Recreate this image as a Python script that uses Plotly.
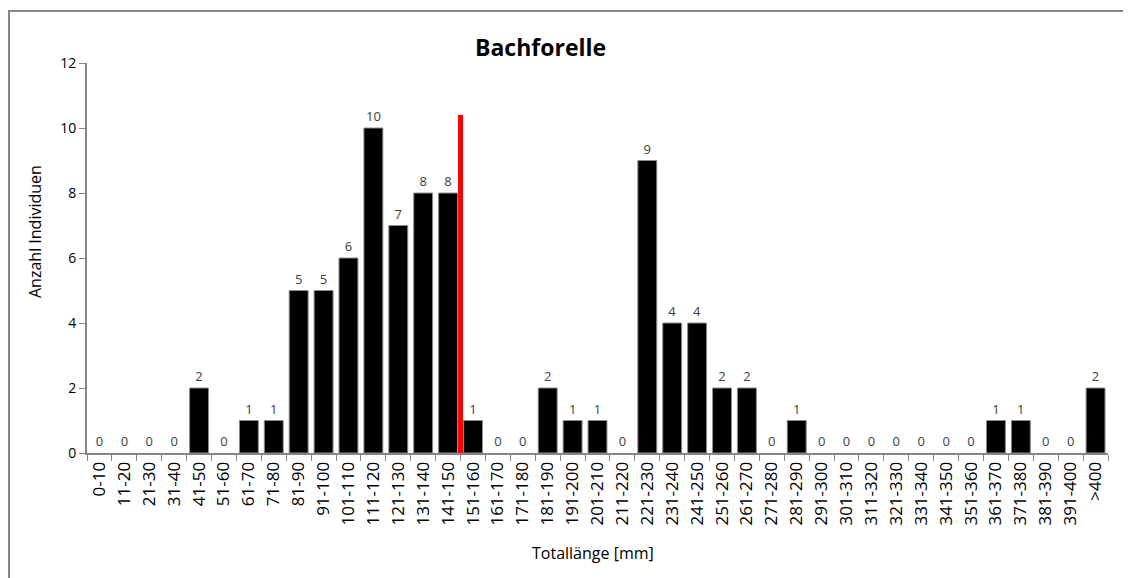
import plotly.graph_objects as go

categories = ["0-10", "11-20", "21-30", "31-40", "41-50", "51-60", "61-70", "71-80",
              "81-90", "91-100", "101-110", "111-120", "121-130", "131-140", "141-150",
              "151-160", "161-170", "171-180", "181-190", "191-200", "201-210", "211-220",
              "221-230", "231-240", "241-250", "251-260", "261-270", "271-280", "281-290",
              "291-300", "301-310", "311-320", "321-330", "331-340", "341-350", "351-360",
              "361-370", "371-380", "381-390", "391-400", ">400"]
counts = [0, 0, 0, 0, 2, 0, 1, 1, 5, 5, 6, 10, 7, 8, 8, 1, 0, 0, 2, 1, 1, 0,
          9, 4, 4, 2, 2, 0, 1, 0, 0, 0, 0, 0, 0, 0, 1, 1, 0, 0, 2]
marker_after_category = "141-150"
marker_height = 10.4

font_family = "Open Sans, Noto Sans, DejaVu Sans, sans-serif"

W, H = 1131, 578
OFF = 8  # page body margin offset
# target plot area in screen pixels
SX0, SX1, SY0, SY1 = 87, 1108, 63, 453
L, R, T, B = SX0 - OFF, W - (SX1 - OFF), SY0 - OFF, H - (SY1 - OFF)
pw, ph = W - L - R, H - T - B


def px_x(x):
    return (x - OFF - L) / pw


def px_y(y):
    return (H - B - (y - OFF)) / ph


fig = go.Figure()
fig.add_trace(go.Bar(
    x=categories, y=counts,
    marker=dict(color="black",
                line=dict(color="#8c8c8c", width=[1 if v > 0 else 0 for v in counts])),
    text=[str(v) for v in counts], textposition="outside",
    textfont=dict(size=13, color="#404040", family=font_family),
    cliponaxis=False,
))

idx = categories.index(marker_after_category) + 0.5
fig.add_shape(type="line", xref="x", yref="y", x0=idx, x1=idx, y0=0, y1=marker_height,
              line=dict(color="#ff0000", width=5))

# outer chart border
fig.add_shape(type="rect", xref="paper", yref="paper",
              x0=px_x(9), x1=px_x(1180), y0=px_y(11), y1=px_y(640),
              line=dict(color="#868686", width=2), layer="below")

fig.add_annotation(text="Totallänge [mm]", xref="paper", yref="paper",
                   x=px_x(593), y=px_y(553), showarrow=False,
                   xanchor="center", yanchor="middle",
                   font=dict(size=16, color="black", family=font_family))
fig.add_annotation(text="Anzahl Individuen", xref="paper", yref="paper",
                   x=px_x(35), y=px_y(232), showarrow=False, textangle=-90,
                   xanchor="center", yanchor="middle",
                   font=dict(size=16, color="black", family=font_family))
fig.add_annotation(text="<b>Bachforelle</b>", xref="paper", yref="paper",
                   x=px_x(540), y=px_y(47), showarrow=False,
                   xanchor="center", yanchor="middle",
                   font=dict(size=23, color="black", family=font_family))

fig.update_layout(
    width=W, height=H,
    margin=dict(l=L, r=R, t=T, b=B),
    paper_bgcolor="white", plot_bgcolor="white",
    bargap=0.24,
    showlegend=False,
    font=dict(family=font_family, color="#000000", size=12),
    xaxis=dict(
        type="category", tickangle=-90, tickson="boundaries", ticks="outside", ticklen=6,
        tickcolor="#868686", showline=True, linecolor="#868686", linewidth=2,
        showgrid=False, tickfont=dict(size=17, color="#000000", family=font_family),
        automargin=False,
    ),
    yaxis=dict(
        range=[0, 12], dtick=2, ticks="outside", ticklen=6, tickcolor="#868686",
        showline=True, linecolor="#868686", linewidth=2, showgrid=False, zeroline=False,
        tickfont=dict(size=14, color="#000000", family=font_family), automargin=False,
    ),
)

fig.write_html("out.html")
